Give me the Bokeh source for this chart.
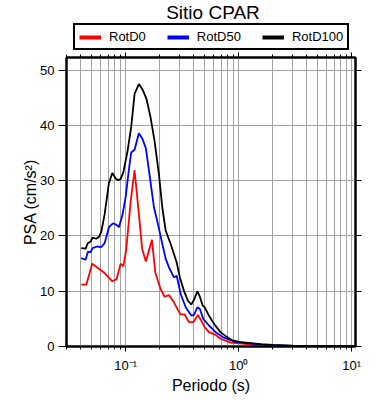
from bokeh.plotting import figure
from bokeh.layouts import column
from bokeh.models import (FixedTicker, LinearAxis, LogAxis, Legend, LegendItem,
                          Label, Range1d)
from bokeh.embed import file_html
from bokeh.resources import INLINE

# ---- data ----
t_d100 = [0.0405, 0.0443, 0.0463, 0.049, 0.051, 0.055, 0.058, 0.061, 0.0652, 0.0712,
          0.0763, 0.0816, 0.0855, 0.0903, 0.0954, 0.1035, 0.112, 0.120, 0.131, 0.142,
          0.153, 0.166, 0.180, 0.197, 0.211, 0.226, 0.250, 0.283, 0.302, 0.328,
          0.355, 0.381, 0.402, 0.431, 0.454, 0.48, 0.50, 0.546, 0.605, 0.69,
          0.79, 0.88, 1.04, 1.57, 2.0, 3.0, 5.0, 7.0, 11.0]
v_d100 = [17.8, 17.7, 18.7, 19.0, 19.7, 19.5, 19.8, 20.8, 23.9, 29.6,
          31.4, 30.4, 30.1, 30.3, 31.5, 35.1, 39.7, 45.7, 47.5, 46.4,
          44.8, 41.5, 37.3, 31.2, 25.2, 21.0, 18.6, 15.2, 12.5, 10.1,
          8.3, 7.6, 8.4, 10.0, 9.0, 7.4, 7.1, 5.6, 4.1, 2.6,
          1.7, 1.1, 0.8, 0.42, 0.3, 0.15, 0.08, 0.05, 0.03]

t_d50 = [0.0405, 0.0443, 0.0463, 0.049, 0.051, 0.056, 0.061, 0.0652, 0.0712, 0.0772,
         0.0833, 0.0873, 0.0935, 0.100, 0.107, 0.112, 0.120, 0.131, 0.140, 0.151,
         0.164, 0.178, 0.193, 0.211, 0.226, 0.242, 0.268, 0.283, 0.307, 0.34,
         0.381, 0.402, 0.431, 0.454, 0.486, 0.546, 0.625, 0.74, 0.91, 1.19,
         1.6, 2.0, 3.0, 5.0, 7.0, 11.0]
v_d50 = [16.0, 15.7, 17.1, 17.1, 17.8, 18.1, 18.0, 18.7, 21.6, 22.3,
         22.0, 21.6, 23.7, 27.0, 32.1, 35.1, 35.6, 38.6, 37.7, 35.9,
         30.6, 25.2, 22.2, 18.6, 15.9, 14.3, 12.5, 12.8, 9.5, 7.1,
         5.6, 5.7, 7.1, 6.8, 5.0, 3.8, 2.6, 1.6, 0.9, 0.6,
         0.35, 0.25, 0.12, 0.06, 0.04, 0.02]

t_d0 = [0.0405, 0.045, 0.0507, 0.056, 0.0643, 0.0763, 0.0833, 0.0903, 0.0954, 0.1015,
        0.111, 0.120, 0.131, 0.140, 0.151, 0.171, 0.183, 0.193, 0.204, 0.221,
        0.242, 0.264, 0.287, 0.307, 0.333, 0.363, 0.397, 0.437, 0.466, 0.50,
        0.546, 0.625, 0.69, 0.85, 1.19, 1.6, 2.0, 3.0, 5.0, 7.0, 11.0]
v_d0 = [11.2, 11.2, 15.0, 14.3, 13.4, 11.8, 12.2, 15.0, 14.5, 17.7,
        26.4, 31.9, 24.0, 17.7, 15.4, 19.3, 13.4, 11.9, 10.4, 9.0,
        9.3, 8.2, 6.8, 5.8, 5.8, 4.4, 4.4, 5.7, 4.7, 3.5,
        2.6, 2.1, 1.4, 0.7, 0.45, 0.25, 0.15, 0.08, 0.04, 0.03, 0.02]

series_names = ["RotD0", "RotD50", "RotD100"]
series_colors = ["#ff0000", "#0000ff", "#000000"]

x_major = [0.1, 1, 10]
x_major_labels = ["10\u207b\u00b9", "10\u2070", "10\u00b9"]
x_minor = [0.03, 0.04, 0.05, 0.06, 0.07, 0.08, 0.09,
           0.2, 0.3, 0.4, 0.5, 0.6, 0.7, 0.8, 0.9,
           2, 3, 4, 5, 6, 7, 8, 9]
y_major = [0, 10, 20, 30, 40, 50]

title_text = "Sitio CPAR"
x_label = "Periodo (s)"
y_label = "PSA (cm/s\u00b2)"

FONT = "Liberation Sans"
GRID = "#a3a3a3"
W = 375
HEAD_H = 51
FRAME = 289

data = [(t_d0, v_d0), (t_d50, v_d50), (t_d100, v_d100)]

# ---------- header: title + legend ----------
head = figure(width=W, height=HEAD_H, x_range=Range1d(-2, -1), y_range=Range1d(-2, -1),
              x_axis_location=None, y_axis_location=None, min_border=0,
              output_backend="svg", toolbar_location=None, title=None,
              outline_line_color=None, border_fill_color="white")
head.grid.visible = False
items = []
for (tt, vv), name, col in zip(data, series_names, series_colors):
    r = head.line(tt, vv, line_color=col, line_width=4)  # legend proxy, outside view
    items.append(LegendItem(label=name, renderers=[r]))
legend = Legend(items=items, orientation="horizontal", location=(7, 1),
                label_text_font=FONT, label_text_font_size="13px", label_text_color="black",
                glyph_width=22, glyph_height=12, label_standoff=8, spacing=21,
                padding=4, margin=0, border_line_color="black", border_line_width=2,
                border_line_alpha=1.0,
                background_fill_color="white", background_fill_alpha=1.0,
                label_height=14)
head.add_layout(legend, "center")
title = Label(x=FRAME / 2 + 2, y=HEAD_H - 12, x_units="screen", y_units="screen",
              text=title_text, text_align="center", text_baseline="alphabetic",
              text_font=FONT, text_font_size="19px", text_color="black")
head.add_layout(title)

# ---------- main plot ----------
p = figure(x_axis_type="log", x_range=Range1d(0.03, 10.8), y_range=Range1d(0, 52.3),
           frame_width=FRAME, frame_height=FRAME,
           min_border_left=66, min_border_top=6, min_border_right=W - 66 - FRAME,
           min_border_bottom=46,
           output_backend="svg", toolbar_location=None, title=None,
           background_fill_color="white", border_fill_color="white")
p.outline_line_color = "black"
p.outline_line_width = 2

xt = FixedTicker(ticks=x_major, minor_ticks=x_minor)
yt = FixedTicker(ticks=y_major, minor_ticks=[])

xa = p.below[0]
xa.ticker = xt
xa.major_label_overrides = {k: v for k, v in zip(x_major, x_major_labels)}
xa.major_label_text_font = FONT
xa.major_label_text_font_size = "13px"
xa.major_label_text_color = "black"
xa.major_tick_out = 5
xa.major_tick_in = 0
xa.minor_tick_out = 3
xa.minor_tick_in = 0
xa.major_label_standoff = 6
xa.axis_line_width = 2
xa.axis_label = x_label
xa.axis_label_text_font = FONT
xa.axis_label_text_font_size = "16px"
xa.axis_label_text_font_style = "normal"
xa.axis_label_text_color = "black"
xa.axis_label_standoff = 1

ya = p.left[0]
ya.ticker = yt
ya.major_label_text_font = FONT
ya.major_label_text_font_size = "13px"
ya.major_label_text_color = "black"
ya.major_tick_out = 8
ya.major_tick_in = 0
ya.minor_tick_out = 0
ya.major_label_standoff = 4
ya.axis_line_width = 2
ya.axis_label = y_label
ya.axis_label_text_font = FONT
ya.axis_label_text_font_size = "16px"
ya.axis_label_text_font_style = "normal"
ya.axis_label_text_color = "black"
ya.axis_label_standoff = -2

ta = LogAxis(ticker=xt, major_tick_out=5, major_tick_in=0, minor_tick_out=3, minor_tick_in=0,
             major_label_text_color=None, major_label_text_font_size="1px",
             major_label_standoff=0, axis_line_width=2)
p.add_layout(ta, "above")
ra = LinearAxis(ticker=yt, major_tick_out=6, major_tick_in=0, minor_tick_out=0,
                major_label_text_color=None, major_label_text_font_size="1px",
                major_label_standoff=0, axis_line_width=2)
p.add_layout(ra, "right")

p.xgrid.ticker = xt
p.xgrid.grid_line_color = GRID
p.xgrid.minor_grid_line_color = GRID
p.ygrid.ticker = yt
p.ygrid.grid_line_color = GRID

for (tt, vv), col in zip(data, series_colors):
    p.line(tt, vv, line_color=col, line_width=1.8)

layout = column(head, p, spacing=0)
open("out.html", "w").write(file_html(layout, INLINE))
